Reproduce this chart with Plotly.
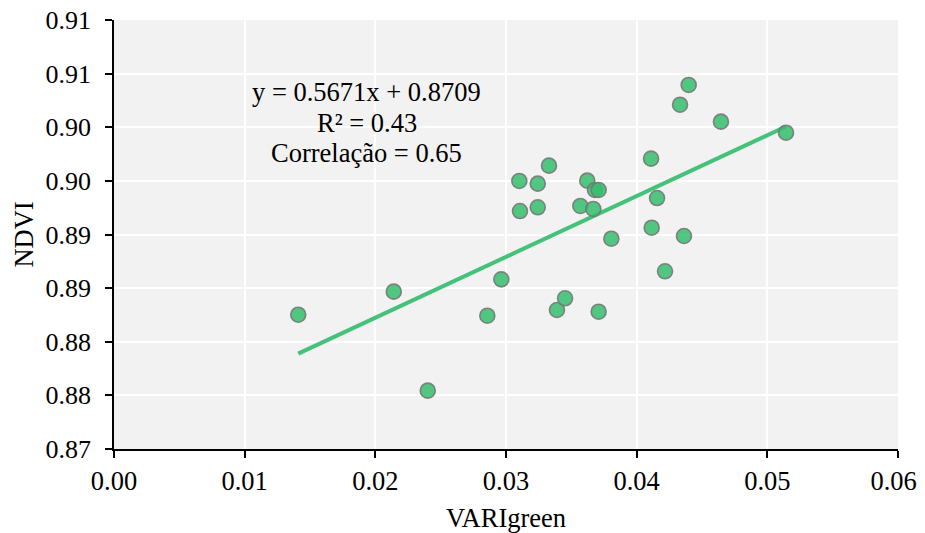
import plotly.graph_objects as go

# Data
vari_green = [0.01410, 0.02141, 0.02401, 0.02857, 0.02964, 0.03102, 0.03107,
              0.03243, 0.03243, 0.03329, 0.03390, 0.03452, 0.03569, 0.03622,
              0.03668, 0.03681, 0.03709, 0.03709, 0.03806, 0.04110, 0.04115,
              0.04156, 0.04217, 0.04332, 0.04362, 0.04398, 0.04645, 0.05143]
ndvi = [0.88252, 0.88467, 0.87544, 0.88243, 0.88582, 0.89499, 0.89219,
        0.89474, 0.89254, 0.89642, 0.88296, 0.88405, 0.89266, 0.89502,
        0.89238, 0.89415, 0.89415, 0.88280, 0.88961, 0.89707, 0.89063,
        0.89340, 0.88657, 0.90210, 0.88986, 0.90394, 0.90052, 0.89949]

slope = 0.5671
intercept = 0.8709
eq_lines = ["y = 0.5671x + 0.8709", "R² = 0.43", "Correlação = 0.65"]

x_tick_vals = [0.00, 0.01, 0.02, 0.03, 0.04, 0.05, 0.06]
x_tick_labels = ["0.00", "0.01", "0.02", "0.03", "0.04", "0.05", "0.06\u2004"]
y_tick_vals = [0.870, 0.875, 0.880, 0.885, 0.890, 0.895, 0.900, 0.905, 0.910]
y_tick_labels = ["0.87", "0.88", "0.88", "0.89", "0.89", "0.90", "0.90", "0.91", "0.91"]

FONT = "Liberation Serif"
FS = 26.5
GREEN = "#45c27a"

x_line = [min(vari_green), max(vari_green)]
y_line = [slope * v + intercept for v in x_line]

fig = go.Figure()
fig.add_trace(go.Scatter(
    x=x_line, y=y_line, mode="lines",
    line=dict(color=GREEN, width=4), hoverinfo="skip", showlegend=False))
fig.add_trace(go.Scatter(
    x=vari_green, y=ndvi, mode="markers",
    marker=dict(size=15, color="rgba(52,190,108,0.85)",
                line=dict(color="rgba(120,120,120,0.9)", width=1.6)),
    showlegend=False))

ann_y = [0.833, 0.760, 0.689]
for txt, yy in zip(eq_lines, ann_y):
    fig.add_annotation(x=0.3223, y=yy, xref="paper", yref="paper",
                       text=txt, showarrow=False, xanchor="center", yanchor="middle",
                       font=dict(family=FONT, size=FS, color="black"))

axis_common = dict(
    showline=True, linecolor="black", linewidth=1.5,
    ticks="outside", ticklen=7, tickwidth=1.5, tickcolor="black",
    showgrid=True, gridcolor="white", gridwidth=2,
    zeroline=False, automargin=False, ticklabeloverflow="allow",
)

fig.update_xaxes(range=[0, 0.06], tickvals=x_tick_vals, ticktext=x_tick_labels,
                 tickfont=dict(family=FONT, size=FS, color="black"),
                 title=dict(text="VARIgreen", font=dict(family=FONT, size=FS, color="black"), standoff=20),
                 **axis_common)
fig.update_yaxes(range=[0.87, 0.91], tickvals=y_tick_vals, ticktext=y_tick_labels,
                 tickfont=dict(family=FONT, size=26, color="black"), ticklabelstandoff=9,
                 title=dict(text="NDVI", font=dict(family=FONT, size=FS, color="black"), standoff=4),
                 **axis_common)

# page body has an 8px default margin, so the figure is 8px smaller
fig.update_layout(
    width=917, height=525,
    margin=dict(l=106, r=27, t=12, b=84),
    plot_bgcolor="#f2f2f2", paper_bgcolor="white",
    font=dict(family=FONT),
)

fig.write_html("out.html")
